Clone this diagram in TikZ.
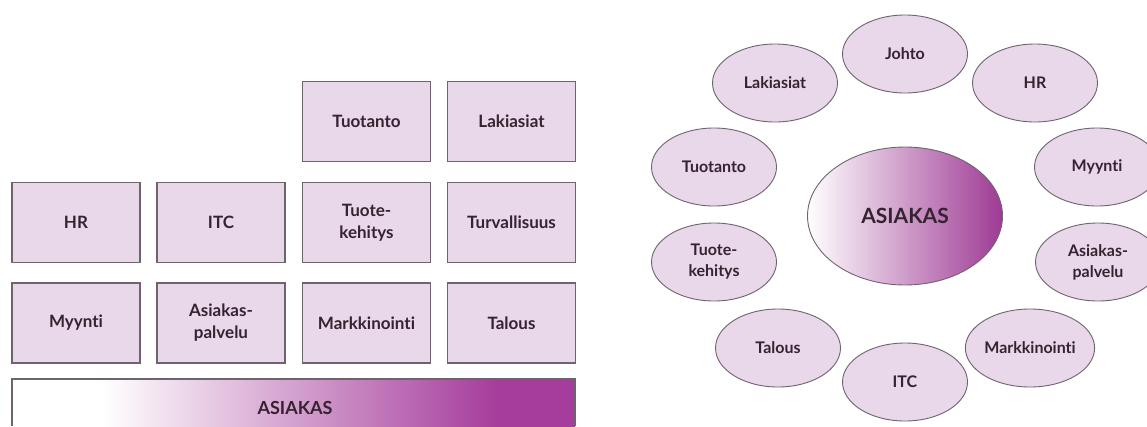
\documentclass[tikz,border=0pt]{standalone}
\usepackage{fontspec}
\setmainfont{Lato}[Ligatures=NoCommon]
\usetikzlibrary{shapes.geometric}
\definecolor{boxfill}{HTML}{E9D7EA}
\definecolor{boxline}{HTML}{6E646E}
\definecolor{txt}{HTML}{35232F}
\definecolor{deeppurple}{HTML}{A63D9C}
\pgfdeclarehorizontalshading{barshade}{100bp}{color(0bp)=(white); color(33bp)=(white); color(68bp)=(deeppurple); color(100bp)=(deeppurple)}
\pgfdeclarehorizontalshading{ellshade}{100bp}{color(0bp)=(white); color(25bp)=(white); color(75bp)=(deeppurple!95!black); color(100bp)=(deeppurple!95!black)}
\tikzset{
  dept/.style={draw=boxline, line width=1.3pt, fill=boxfill, minimum width=128pt, minimum height=80pt, inner sep=0pt, align=center, font=\bfseries\fontsize{17}{22}\selectfont, text=txt},
  oval/.style={ellipse, draw=boxline, line width=0.9pt, fill=boxfill, minimum width=125pt, minimum height=78pt, inner sep=0pt, align=center, font=\bfseries\fontsize{16}{21}\selectfont, text=txt},
}
\begin{document}
\begin{tikzpicture}[x=1pt, y=-1pt]
\useasboundingbox (0,0) rectangle (1147,426);
% left: stacked boxes
\node[dept] (tuot) at (366.5,121.5) {Tuotanto};
\node[dept] (laki) at (511.5,121.5) {Lakiasiat};
\node[dept] (hr)   at (76,222.5)   {HR};
\node[dept] (itc)  at (221,222.5)  {ITC};
\node[dept] (tk)   at (366.5,222.5) {Tuote-\\kehitys};
\node[dept] (turv) at (511.5,222.5) {Turvallisuus};
\node[dept] (myy)  at (76,323)     {Myynti};
\node[dept] (ap)   at (221,323)    {Asiakas-\\palvelu};
\node[dept] (mark) at (366.5,323)  {Markkinointi};
\node[dept] (tal)  at (511.5,323)  {Talous};
% bar
\shade[shading=barshade] (12,379) rectangle (575,426);
\draw[boxline, line width=1.3pt] (12,426) -- (12,379) -- (575,379) -- (575,426);
\node[font=\bfseries\fontsize{18}{20}\selectfont, text=txt] (asbar) at (295,408) {ASIAKAS};
% right: circle of ovals
\node[ellipse, draw=boxline, line width=0.9pt, shading=ellshade, minimum width=195pt, minimum height=138pt, inner sep=0pt, font=\bfseries\fontsize{21}{24}\selectfont, text=txt] (asc) at (905,216) {ASIAKAS};
\node[oval] (johto) at (905,54)   {Johto};
\node[oval] (ohr)   at (1035,83)  {HR};
\node[oval] (olaki) at (775,83)   {Lakiasiat};
\node[oval] (otuot) at (714,167)  {Tuotanto};
\node[oval] (omyy)  at (1097,167) {Myynti};
\node[oval] (otk)   at (714,262)  {Tuote-\\kehitys};
\node[oval] (oap)   at (1098,262) {Asiakas-\\palvelu};
\node[oval] (otal)  at (778,348)  {Talous};
\node[oval] (omark) at (1030,348) {Markkinointi};
\node[oval] (oitc)  at (905,382)  {ITC};
\end{tikzpicture}
\end{document}
